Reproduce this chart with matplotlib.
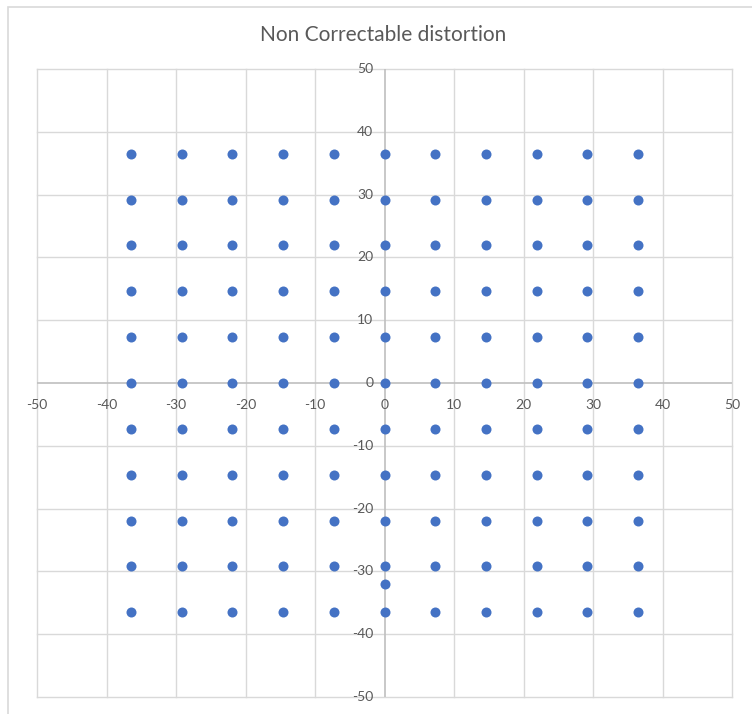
import matplotlib
matplotlib.use("Agg")
import matplotlib.pyplot as plt
from matplotlib.patches import Rectangle

plt.rcParams['font.family'] = ['Lato', 'DejaVu Sans']

title = "Non Correctable distortion"
grid_x = [-36.5, -29.2, -21.9, -14.6, -7.3, 0.0, 7.3, 14.6, 21.9, 29.2, 36.5]
grid_y = [36.5, 29.2, 21.9, 14.6, 7.3, 0.0, -7.3, -14.6, -21.9, -29.2, -36.5]
extra_x = [0.0]
extra_y = [-32.0]
x_ticks = [-50, -40, -30, -20, -10, 0, 10, 20, 30, 40, 50]
y_ticks = [-50, -40, -30, -20, -10, 0, 10, 20, 30, 40, 50]

xs = [x for y in grid_y for x in grid_x] + extra_x
ys = [y for y in grid_y for x in grid_x] + extra_y

W, H = 752, 714
fig = plt.figure(figsize=(W / 100, H / 100), dpi=100)
fig.patch.set_facecolor('white')

# outer chart border
fig.add_artist(Rectangle((8 / W, -0.1), 1.2, 1 - 7 / H + 0.1, transform=fig.transFigure,
                         fill=False, edgecolor='#d9d9d9', linewidth=1.2))

ax = fig.add_axes([37 / W, 1 - 697 / H, (732 - 37) / W, (697 - 69) / H])
ax.set_xlim(-50, 50)
ax.set_ylim(-50, 50)
for s in ax.spines.values():
    s.set_visible(False)
ax.set_xticks(x_ticks)
ax.set_yticks(y_ticks)
ax.tick_params(length=0, labelbottom=False, labelleft=False)

grid_color = '#d9d9d9'
for t in x_ticks:
    if t != 0:
        ax.axvline(t, color=grid_color, lw=1.0, zorder=1, clip_on=False)
for t in y_ticks:
    if t != 0:
        ax.axhline(t, color=grid_color, lw=1.0, zorder=1, clip_on=False)
ax.axhline(0, color='#bfbfbf', lw=1.2, zorder=2)
ax.axvline(0, color='#bfbfbf', lw=1.2, zorder=2)

lab_color = '#595959'
for t in x_ticks:
    ax.annotate(str(t), xy=(t, 0), xytext=(0, -16), textcoords='offset points',
                ha='center', va='center', fontsize=10, color=lab_color, annotation_clip=False)
for t in y_ticks:
    ax.annotate(str(t), xy=(0, t), xytext=(-8, 0), textcoords='offset points',
                ha='right', va='center', fontsize=10, color=lab_color, annotation_clip=False)

ax.scatter(xs, ys, s=52, color='#4472c4', zorder=3, linewidths=0)

fig.text(383 / W, 1 - 35 / H, title, ha='center', va='center', fontsize=15, color=lab_color)

fig.savefig('out.png', dpi=100)
